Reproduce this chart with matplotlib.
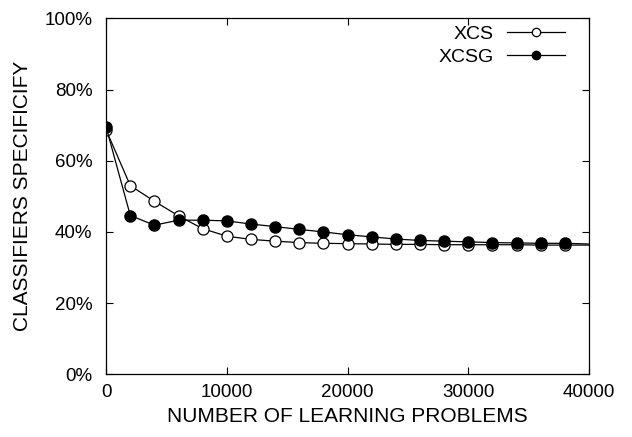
import matplotlib
matplotlib.use('Agg')
import matplotlib.pyplot as plt
from matplotlib.ticker import FuncFormatter

plt.rcParams['font.family'] = ['Liberation Sans', 'DejaVu Sans']

# learning problems (last point only carries the line to the edge)
problems = [0, 2000, 4000, 6000, 8000, 10000, 12000, 14000, 16000, 18000,
            20000, 22000, 24000, 26000, 28000, 30000, 32000, 34000, 36000,
            38000, 40000]

xcs = [68.6, 53.0, 48.6, 44.5, 40.9, 38.8, 37.9, 37.4, 37.0, 36.8,
       36.7, 36.6, 36.5, 36.5, 36.4, 36.4, 36.4, 36.4, 36.3, 36.3, 36.3]
xcsg = [69.4, 44.6, 41.9, 43.3, 43.3, 43.1, 42.2, 41.5, 40.7, 40.0,
        39.2, 38.6, 38.0, 37.6, 37.4, 37.2, 37.0, 36.9, 36.8, 36.8, 36.6]

fig = plt.figure(figsize=(6.32, 4.37), dpi=100)
ax = fig.add_axes([0.168, 0.1435, 0.764, 0.8145])

ax.plot(problems, xcs, color='black', lw=0.9, marker='o', ms=8,
        mfc='white', mec='black', mew=0.9, markevery=slice(0, -1), label='XCS')
ax.plot(problems, xcsg, color='black', lw=0.9, marker='o', ms=8,
        mfc='black', mec='black', markevery=slice(0, -1), label='XCSG')

ax.set_xlim(0, 40000)
ax.set_ylim(0, 100)
ax.set_xticks([0, 10000, 20000, 30000, 40000])
ax.set_yticks([0, 20, 40, 60, 80, 100])
ax.yaxis.set_major_formatter(FuncFormatter(lambda v, p: '%d%%' % v))
ax.tick_params(direction='in', top=True, right=True, labelsize=13.5,
               length=5, width=0.8)
ax.tick_params(axis='x', pad=7)
ax.tick_params(axis='y', pad=10)
for s in ax.spines.values():
    s.set_linewidth(0.9)

ax.set_xlabel('NUMBER OF LEARNING PROBLEMS', fontsize=15, labelpad=4)
ax.set_ylabel('CLASSIFIERS SPECIFICIFY', fontsize=15, labelpad=9)

leg = ax.legend(loc='upper right', frameon=False, markerfirst=False,
                fontsize=14, handlelength=3.0, markerscale=0.75,
                borderaxespad=0.2, labelspacing=0.3, handletextpad=0.7,
                borderpad=0.15, bbox_to_anchor=(0.965, 1.0))

fig.savefig('out.png', dpi=100)
